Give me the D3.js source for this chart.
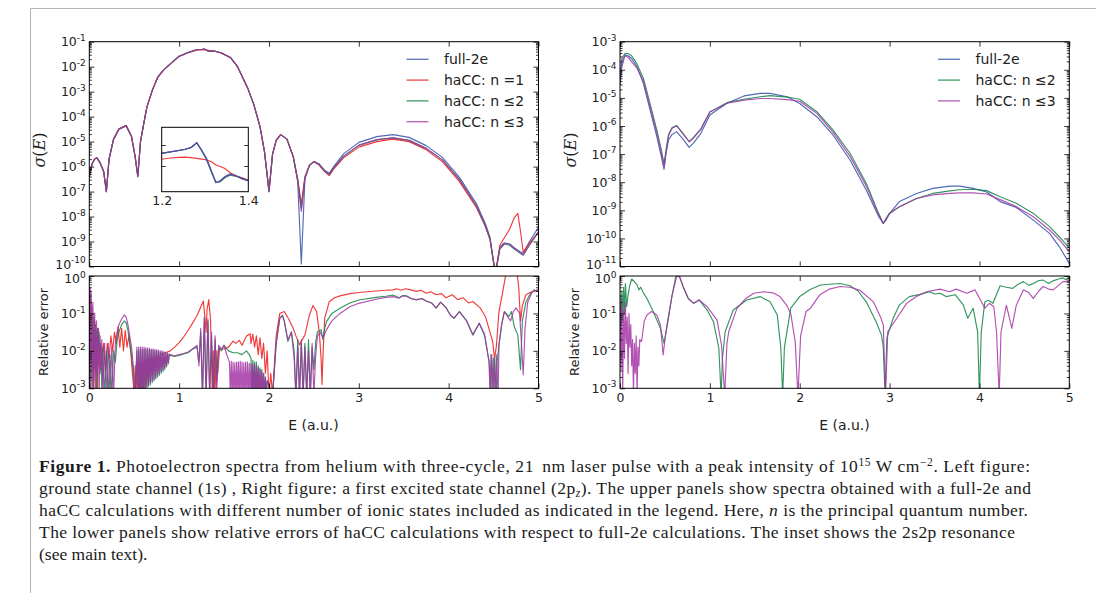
<!DOCTYPE html>
<html>
<head>
<meta charset="utf-8">
<script src="https://cdn.jsdelivr.net/npm/d3@7"></script>
<style>
  body { margin: 0; background: #fff; }
  svg { display: block; }
</style>
</head>
<body>
<svg id="fig" width="1096" height="593"></svg>
<script>
// ---------------------------------------------------------------------------
// Photoelectron spectra of helium: full-2e vs haCC (values are log10 of σ / error)
// ---------------------------------------------------------------------------

// Left upper panel: 1s channel, log10 σ(E) on a shared energy grid
const spec1sE = [0, 0.03, 0.06, 0.085, 0.12, 0.16, 0.19, 0.22, 0.27, 0.33,
  0.41, 0.47, 0.51, 0.54, 0.57, 0.6, 0.64, 0.7, 0.76, 0.83,
  0.9, 1.0, 1.1, 1.2, 1.254, 1.281, 1.304, 1.325, 1.358, 1.4,
  1.47, 1.57, 1.65, 1.76, 1.83, 1.9, 1.95, 2.0, 2.04, 2.08,
  2.13, 2.2, 2.27, 2.32, 2.36, 2.4, 2.45, 2.5, 2.56, 2.62,
  2.67, 2.72, 2.83, 3.0, 3.2, 3.38, 3.56, 3.75, 3.93, 4.12,
  4.31, 4.41, 4.46, 4.52, 4.57, 4.62, 4.68, 4.73, 4.77, 4.8,
  4.83, 4.9, 5.0];
const spec1sFull = [-6.4, -5.9, -5.7, -5.65, -5.85, -6.2, -7.0, -5.7, -4.9, -4.5,
  -4.36, -4.8, -5.6, -6.4, -5.0, -4.4, -3.63, -2.96, -2.43, -2.12,
  -1.9, -1.58, -1.43, -1.319, -1.31, -1.296, -1.333, -1.387, -1.366, -1.382,
  -1.45, -1.63, -2.0, -2.83, -3.5, -4.4, -5.4, -7.0, -5.5, -4.95,
  -4.72, -4.9, -5.6, -6.6, -9.9, -6.5, -5.95, -5.8, -5.9, -6.15,
  -6.27, -6.0, -5.49, -5.03, -4.8, -4.72, -4.83, -5.16, -5.63, -6.43,
  -7.49, -8.3, -8.83, -10.3, -9.23, -9.05, -9.1, -9.25, -9.35, -9.42,
  -9.47, -9.0, -8.43];
const spec1sN1 = [-6.4, -5.9, -5.7, -5.65, -5.85, -6.2, -7.0, -5.7, -4.9, -4.5,
  -4.36, -4.8, -5.6, -6.35, -5.0, -4.4, -3.63, -2.96, -2.43, -2.12,
  -1.9, -1.59, -1.44, -1.332, -1.327, -1.33, -1.333, -1.345, -1.362, -1.38,
  -1.45, -1.63, -2.0, -2.83, -3.5, -4.4, -5.4, -6.95, -5.5, -4.95,
  -4.72, -4.9, -5.6, -6.5, -7.5, -6.4, -5.95, -5.8, -5.95, -6.2,
  -6.36, -6.1, -5.65, -5.22, -5.0, -4.9, -5.0, -5.33, -5.8, -6.6,
  -7.65, -8.4, -8.9, -10.3, -9.15, -8.85, -8.5, -8.05, -7.87, -8.6,
  -9.43, -9.05, -8.62];
const spec1sN2 = [-6.4, -5.9, -5.7, -5.65, -5.85, -6.2, -7.0, -5.7, -4.9, -4.5,
  -4.36, -4.8, -5.6, -6.4, -5.0, -4.4, -3.63, -2.96, -2.43, -2.12,
  -1.9, -1.58, -1.43, -1.319, -1.311, -1.297, -1.33, -1.384, -1.368, -1.382,
  -1.45, -1.63, -2.0, -2.83, -3.5, -4.4, -5.4, -7.0, -5.5, -4.95,
  -4.72, -4.9, -5.6, -6.55, -7.7, -6.45, -5.95, -5.8, -5.92, -6.18,
  -6.32, -6.05, -5.6, -5.15, -4.93, -4.85, -4.95, -5.27, -5.73, -6.52,
  -7.58, -8.4, -8.9, -10.3, -9.3, -9.1, -9.15, -9.3, -9.4, -9.48,
  -9.55, -9.15, -8.62];
const spec1sN3 = [-6.4, -5.9, -5.7, -5.65, -5.85, -6.2, -7.0, -5.7, -4.9, -4.5,
  -4.36, -4.8, -5.6, -6.4, -5.0, -4.4, -3.63, -2.96, -2.43, -2.12,
  -1.9, -1.58, -1.43, -1.318, -1.309, -1.297, -1.332, -1.386, -1.366, -1.382,
  -1.45, -1.63, -2.0, -2.83, -3.5, -4.4, -5.4, -7.0, -5.5, -4.95,
  -4.72, -4.9, -5.6, -6.55, -7.8, -6.45, -5.95, -5.8, -5.92, -6.18,
  -6.32, -6.05, -5.58, -5.14, -4.92, -4.85, -4.95, -5.27, -5.73, -6.52,
  -7.58, -8.4, -8.9, -10.3, -9.28, -9.08, -9.12, -9.28, -9.38, -9.46,
  -9.53, -9.12, -8.6];

// Inset: 2s2p resonance, linear σ
const insetE = [1.2, 1.22, 1.24, 1.254, 1.268, 1.281, 1.293, 1.304, 1.315, 1.325,
  1.335, 1.346, 1.358, 1.373, 1.386, 1.4];
const insetFull = [0.04802, 0.04835, 0.0487, 0.04898, 0.0494, 0.05055, 0.0485, 0.04643, 0.0435, 0.04103,
  0.0415, 0.0425, 0.0431, 0.04262, 0.042, 0.0415];
const insetN1 = [0.0466, 0.0469, 0.04707, 0.0471, 0.047, 0.0468, 0.04665, 0.04643, 0.046, 0.04524,
  0.0449, 0.0444, 0.04341, 0.0426, 0.0422, 0.04167];
const insetN2 = [0.048, 0.04833, 0.04868, 0.04895, 0.0494, 0.0505, 0.0487, 0.0467, 0.0438, 0.0412,
  0.0412, 0.0422, 0.0428, 0.0425, 0.0419, 0.0415];
const insetN3 = [0.04805, 0.04838, 0.04872, 0.049, 0.04943, 0.05052, 0.0486, 0.0465, 0.0436, 0.0411,
  0.0414, 0.0424, 0.043, 0.0426, 0.042, 0.0415];

// Left lower panel: log10 relative error, [E, value] pairs
const err1sN1 = [[0,-0.5],[0.01,-3.2],[0.02,-0.6],[0.03,-2.5],[0.04,-1.0],[0.05,-3.2],[0.06,-1.2],[0.07,-2.6],
  [0.08,-1.5],[0.09,-3.2],[0.1,-1.4],[0.11,-2.4],[0.12,-1.8],[0.14,-2.3],[0.16,-1.8],[0.18,-2.6],[0.2,-1.8],
  [0.22,-2.2],[0.24,-1.6],[0.26,-2.0],[0.28,-1.5],[0.3,-1.8],[0.32,-1.35],[0.34,-1.9],[0.36,-1.4],[0.38,-2.0],
  [0.4,-1.45],[0.42,-1.9],[0.44,-1.6],[0.46,-2.0],[0.48,-2.6],[0.5,-3.2],[0.51,-2.4],[0.52,-3.2],[0.53,-2.35],
  [0.54,-3.2],[0.55,-2.3],[0.56,-3.2],[0.57,-2.3],[0.58,-3.2],[0.59,-2.28],[0.6,-3.1],[0.61,-2.26],[0.62,-3.0],
  [0.63,-2.24],[0.64,-2.9],[0.65,-2.22],[0.66,-2.8],[0.67,-2.2],[0.68,-2.7],[0.69,-2.18],[0.7,-2.6],[0.71,-2.16],
  [0.72,-2.5],[0.73,-2.15],[0.74,-2.42],[0.75,-2.13],[0.76,-2.35],[0.77,-2.12],[0.78,-2.28],[0.8,-2.1],
  [0.85,-2.05],[0.9,-2.0],[0.95,-1.9],[1.0,-1.78],[1.05,-1.63],[1.1,-1.45],
  [1.16,-1.22],[1.2,-1.05],[1.25,-0.78],[1.27,-0.67],[1.29,-1.2],[1.3,-1.5],[1.31,-0.9],[1.33,-0.63],[1.35,-1.2],
  [1.37,-3.2],[1.38,-2.0],[1.39,-3.2],[1.4,-2.1],[1.41,-3.2],[1.42,-2.0],[1.43,-2.6],[1.45,-1.95],[1.5,-1.95],
  [1.55,-1.9],[1.6,-1.74],[1.63,-1.8],[1.67,-1.72],[1.7,-1.85],[1.75,-1.6],[1.79,-1.54],[1.8,-1.8],[1.82,-1.55],
  [1.84,-1.9],[1.86,-1.6],[1.88,-2.1],[1.9,-1.65],[1.92,-2.2],[1.94,-1.8],[1.96,-2.6],[1.98,-2.0],[2.0,-3.2],
  [2.02,-2.6],[2.04,-3.2],[2.08,-1.6],[2.12,-1.0],[2.17,-0.95],[2.22,-1.15],[2.27,-1.4],[2.3,-1.6],[2.34,-1.84],
  [2.37,-1.7],[2.4,-1.58],[2.45,-1.04],[2.49,-0.79],[2.53,-0.95],[2.56,-1.5],[2.58,-2.2],[2.59,-2.9],[2.6,-2.2],
  [2.62,-1.13],[2.67,-0.69],[2.73,-0.58],[2.79,-0.53],[2.9,-0.47],[3.0,-0.44],[3.19,-0.4],[3.3,-0.38],[3.38,-0.37],
  [3.42,-0.34],[3.47,-0.38],[3.52,-0.34],[3.58,-0.37],[3.64,-0.41],[3.69,-0.38],[3.75,-0.46],[3.8,-0.42],
  [3.86,-0.5],[3.92,-0.47],[3.97,-0.58],[4.04,-0.5],[4.1,-0.63],[4.16,-0.58],[4.22,-0.72],[4.27,-0.68],
  [4.35,-0.85],[4.41,-1.09],[4.46,-1.5],[4.49,-1.75],[4.51,-2.2],[4.53,-1.9],[4.56,-0.95],[4.6,-0.45],
  [4.64,0.1],[4.76,0.1],[4.78,-0.3],[4.8,-1.2],[4.82,-0.8],[4.86,-0.5],[4.9,-0.45],[4.95,-0.4],[5.0,-0.37]];
const err1sN2 = [[0,-0.4],[0.005,-3.2],[0.01,-0.5],[0.02,-2.8],[0.03,-0.8],[0.04,-3.2],[0.05,-1.1],[0.06,-2.5],
  [0.07,-1.3],[0.08,-3.2],[0.09,-1.4],[0.1,-2.0],[0.11,-1.5],[0.12,-2.6],[0.13,-1.8],[0.14,-3.2],[0.15,-1.9],
  [0.17,-3.2],[0.19,-2.0],[0.21,-3.2],[0.23,-2.1],[0.25,-3.2],[0.27,-2.0],[0.29,-2.3],[0.31,-1.7],[0.33,-1.5],
  [0.36,-1.3],[0.39,-1.2],[0.41,-1.25],[0.43,-1.45],[0.45,-1.8],[0.47,-2.1],[0.49,-2.6],[0.51,-3.2],
  [0.53,-2.0],[0.54,-3.2],[0.55,-1.97],[0.56,-3.2],[0.57,-1.96],[0.58,-3.2],[0.59,-1.96],[0.6,-3.2],[0.61,-1.96],
  [0.62,-3.05],[0.63,-1.96],[0.64,-3.0],[0.65,-1.97],[0.66,-2.95],[0.67,-1.97],[0.68,-2.9],[0.69,-1.98],[0.7,-2.85],
  [0.71,-1.98],[0.72,-2.8],[0.73,-2.0],[0.74,-2.75],[0.75,-2.0],[0.76,-2.7],[0.77,-2.02],[0.78,-2.65],[0.79,-2.03],
  [0.8,-2.6],[0.81,-2.04],[0.82,-2.55],[0.83,-2.05],[0.84,-2.5],[0.85,-2.06],[0.86,-2.42],[0.87,-2.08],[0.88,-2.35],
  [0.89,-2.1],[0.9,-2.12],
  [0.95,-2.15],[1.0,-2.12],[1.05,-2.08],[1.1,-2.05],[1.15,-1.95],[1.2,-1.9],[1.22,-2.3],[1.24,-1.5],[1.26,-3.2],
  [1.28,-1.15],[1.3,-3.2],[1.32,-1.2],[1.34,-3.2],[1.36,-1.6],[1.38,-3.2],[1.4,-1.7],[1.42,-2.8],[1.44,-1.9],
  [1.47,-2.0],[1.5,-1.85],[1.55,-2.0],[1.6,-2.05],[1.65,-2.05],[1.7,-2.1],[1.75,-2.0],[1.78,-2.1],[1.8,-2.2],
  [1.81,-3.2],[1.82,-2.25],[1.83,-3.2],[1.84,-2.3],[1.85,-3.2],[1.86,-2.3],[1.87,-3.2],[1.88,-2.4],[1.89,-3.2],
  [1.9,-2.45],[1.91,-3.2],[1.92,-2.5],[1.93,-3.2],[1.94,-2.6],[1.95,-3.2],[1.96,-2.7],[1.97,-3.2],[1.98,-2.8],
  [2.04,-3.2],[2.08,-1.8],[2.12,-1.13],[2.15,-1.05],[2.17,-1.2],[2.21,-1.75],[2.25,-1.49],[2.28,-2.0],[2.3,-3.2],
  [2.32,-1.7],[2.34,-3.2],[2.36,-1.8],[2.38,-3.2],[2.4,-1.8],[2.42,-3.2],[2.44,-1.7],[2.46,-3.2],[2.48,-1.9],
  [2.5,-2.5],[2.52,-1.75],[2.54,-1.49],[2.58,-1.44],[2.6,-1.7],[2.62,-1.4],[2.64,-1.22],[2.7,-1.0],[2.79,-0.86],
  [2.9,-0.72],[3.0,-0.64],[3.19,-0.57],[3.3,-0.54],[3.38,-0.51],[3.45,-0.58],[3.49,-0.52],[3.53,-0.53],
  [3.58,-0.6],[3.64,-0.64],[3.7,-0.6],[3.75,-0.67],[3.81,-0.72],[3.86,-0.86],[3.91,-0.7],[3.97,-0.85],
  [4.02,-1.05],[4.06,-1.13],[4.12,-0.95],[4.2,-1.2],[4.27,-1.58],[4.34,-1.26],[4.4,-1.6],[4.45,-2.29],
  [4.47,-3.2],[4.48,-2.1],[4.5,-3.2],[4.51,-2.2],[4.53,-3.2],[4.54,-2.3],[4.56,-1.84],[4.59,-1.3],[4.62,-0.95],
  [4.67,-1.08],[4.7,-0.95],[4.73,-1.35],[4.77,-1.58],[4.79,-2.2],[4.8,-2.5],[4.82,-1.2],[4.86,-0.7],[4.9,-0.51],
  [4.95,-0.37],[5.0,-0.42]];
const err1sN3 = [[0,-0.3],[0.005,-3.2],[0.01,-0.3],[0.015,-2.5],[0.02,-0.4],[0.03,-3.2],[0.04,-0.7],[0.05,-2.8],
  [0.06,-1.0],[0.07,-3.2],[0.08,-1.2],[0.09,-2.6],[0.1,-1.4],[0.11,-3.2],[0.12,-1.6],[0.13,-2.5],[0.14,-1.7],
  [0.15,-3.2],[0.17,-1.8],[0.19,-3.2],[0.21,-1.8],[0.23,-3.2],[0.25,-1.9],[0.27,-3.2],[0.29,-1.8],[0.31,-1.5],
  [0.33,-1.3],[0.36,-1.15],[0.39,-1.04],[0.41,-1.1],[0.43,-1.3],[0.45,-1.6],[0.47,-1.9],[0.49,-2.4],[0.51,-3.2],
  [0.53,-1.9],[0.54,-3.2],[0.55,-1.9],[0.56,-3.2],[0.57,-1.9],[0.58,-3.2],[0.59,-1.9],[0.6,-3.1],[0.61,-1.9],
  [0.62,-3.0],[0.63,-1.92],[0.64,-2.95],[0.65,-1.92],[0.66,-2.9],[0.67,-1.93],[0.68,-2.85],[0.69,-1.95],[0.7,-2.8],
  [0.71,-1.95],[0.72,-2.75],[0.73,-1.96],[0.74,-2.7],[0.75,-1.97],[0.76,-2.65],[0.77,-1.98],[0.78,-2.6],[0.79,-2.0],
  [0.8,-2.55],[0.81,-2.0],[0.82,-2.5],[0.83,-2.02],[0.84,-2.45],[0.85,-2.03],[0.86,-2.4],[0.87,-2.05],[0.88,-2.3],
  [0.89,-2.08],[0.9,-2.1],
  [0.95,-2.13],[1.0,-2.1],[1.05,-2.07],[1.1,-2.03],[1.15,-1.95],[1.2,-1.85],[1.22,-2.4],[1.24,-1.4],
  [1.26,-3.2],[1.28,-1.1],[1.3,-3.2],[1.32,-1.15],[1.34,-3.2],[1.36,-1.5],[1.38,-3.2],[1.4,-1.6],[1.42,-3.0],
  [1.44,-1.85],[1.47,-1.95],[1.5,-1.85],[1.53,-2.1],
  [1.56,-2.3],[1.57,-3.2],[1.58,-2.28],[1.59,-3.2],[1.6,-2.3],[1.61,-3.2],[1.62,-2.32],[1.63,-3.2],[1.64,-2.3],
  [1.65,-3.2],[1.66,-2.3],[1.67,-3.2],[1.68,-2.28],[1.69,-3.2],[1.7,-2.3],[1.71,-3.2],[1.72,-2.32],[1.73,-3.2],
  [1.74,-2.3],[1.75,-3.2],[1.76,-2.3],[1.77,-3.2],[1.78,-2.33],[1.79,-3.2],[1.8,-2.35],[1.81,-3.2],[1.82,-2.35],
  [1.83,-3.2],[1.84,-2.38],[1.85,-3.2],[1.86,-2.4],[1.87,-3.2],[1.88,-2.45],[1.89,-3.2],[1.9,-2.5],[1.91,-3.2],
  [1.92,-2.55],[1.93,-3.2],[1.94,-2.6],[1.95,-3.2],[1.96,-2.7],[1.97,-3.2],[1.98,-2.8],[2.04,-3.2],
  [2.08,-1.8],[2.12,-1.13],[2.15,-1.05],[2.17,-1.2],[2.21,-1.7],[2.25,-1.5],[2.28,-2.2],[2.3,-3.2],[2.32,-1.9],
  [2.34,-3.2],[2.36,-1.7],[2.38,-3.2],[2.4,-1.9],[2.42,-3.2],[2.44,-2.0],[2.46,-3.2],[2.48,-1.8],[2.5,-3.2],
  [2.52,-2.1],[2.54,-1.6],[2.57,-1.5],[2.6,-1.65],[2.64,-1.44],[2.7,-1.2],[2.79,-1.0],[2.9,-0.82],[3.0,-0.73],
  [3.19,-0.62],[3.3,-0.57],[3.38,-0.55],[3.45,-0.59],[3.49,-0.53],[3.53,-0.54],[3.58,-0.6],[3.64,-0.63],
  [3.7,-0.6],[3.75,-0.67],[3.81,-0.72],[3.86,-0.85],[3.91,-0.7],[3.97,-0.84],[4.02,-1.05],[4.06,-1.12],
  [4.12,-0.95],[4.2,-1.2],[4.27,-1.56],[4.34,-1.26],[4.4,-1.55],[4.45,-2.3],[4.46,-3.2],[4.47,-2.1],[4.49,-3.2],
  [4.5,-2.2],[4.52,-3.2],[4.53,-2.1],[4.55,-3.2],[4.56,-1.84],[4.59,-1.3],[4.62,-0.95],[4.66,-1.1],[4.69,-1.2],
  [4.72,-0.95],[4.75,-0.85],[4.79,-1.0],[4.81,-1.8],[4.83,-2.64],[4.85,-1.4],[4.88,-0.7],[4.93,-0.42],[5.0,-0.37]];

// Right upper panel: 2pz channel, log10 σ(E)
const spec2pE = [0, 0.02, 0.056, 0.09, 0.13, 0.19, 0.26, 0.33, 0.41, 0.46,
  0.49, 0.51, 0.54, 0.58, 0.63, 0.71, 0.77, 0.82, 0.9, 1.0,
  1.19, 1.38, 1.56, 1.67, 1.86, 2.0, 2.19, 2.37, 2.56, 2.74,
  2.87, 2.93, 2.96, 3.0, 3.11, 3.3, 3.48, 3.67, 3.78, 3.93,
  4.08, 4.23, 4.41, 4.6, 4.78, 4.89, 5.0];
const spec2pFull = [-4.54, -3.9, -3.47, -3.5, -3.6, -3.89, -4.48, -5.37, -6.38, -7.09,
  -7.54, -7.0, -6.5, -6.3, -6.2, -6.5, -6.76, -6.6, -6.26, -5.61,
  -5.19, -4.93, -4.84, -4.84, -4.96, -5.2, -5.67, -6.32, -7.21, -8.28,
  -9.17, -9.47, -9.35, -9.11, -8.69, -8.4, -8.22, -8.14, -8.14, -8.22,
  -8.35, -8.69, -8.9, -9.35, -9.82, -10.3, -10.89];
const spec2pN2 = [-4.3, -3.6, -3.42, -3.42, -3.5, -3.8, -4.3, -5.15, -6.15, -6.85,
  -7.35, -6.9, -6.3, -6.05, -5.98, -6.3, -6.56, -6.4, -6.1, -5.5,
  -5.17, -5.05, -4.96, -4.92, -4.97, -5.05, -5.49, -6.14, -6.97, -8.04,
  -9.05, -9.47, -9.3, -9.1, -8.87, -8.58, -8.4, -8.31, -8.27, -8.25,
  -8.3, -8.52, -8.75, -9.11, -9.58, -9.95, -10.35];
const spec2pN3 = [-4.4, -3.7, -3.5, -3.55, -3.72, -3.95, -4.4, -5.25, -6.25, -6.95,
  -7.45, -7.0, -6.35, -6.08, -6.0, -6.32, -6.56, -6.42, -6.12, -5.5,
  -5.19, -5.08, -5.02, -5.02, -5.06, -5.12, -5.55, -6.22, -7.08, -8.13,
  -9.1, -9.47, -9.3, -9.12, -8.87, -8.58, -8.45, -8.4, -8.38, -8.38,
  -8.42, -8.62, -8.87, -9.23, -9.7, -10.05, -10.47];

// Right lower panel: log10 relative error, [E, value] pairs
const err2pN2 = [[0,-0.5],[0.01,-1.3],[0.02,-0.4],[0.03,-1.2],[0.04,-0.3],[0.05,-1.0],[0.06,-0.2],[0.074,-0.82],
  [0.09,-0.5],[0.11,-0.24],[0.13,-0.08],[0.16,-0.15],[0.19,-0.24],[0.21,-0.37],[0.23,-0.3],[0.26,-0.45],[0.3,-0.6],
  [0.37,-0.95],[0.45,-1.4],[0.49,-1.8],[0.53,-1.26],[0.58,-0.51],[0.62,-0.02],[0.66,0],[0.71,-0.33],[0.76,-0.6],
  [0.82,-0.73],[0.88,-0.64],[0.97,-0.91],[1.04,-1.22],[1.1,-1.93],[1.125,-3.2],[1.14,-2.2],[1.17,-1.49],
  [1.26,-0.91],[1.41,-0.64],[1.56,-0.55],[1.67,-0.69],[1.75,-1.04],[1.79,-1.93],[1.81,-3.2],[1.83,-1.9],
  [1.9,-0.86],[2.0,-0.55],[2.11,-0.37],[2.23,-0.24],[2.33,-0.22],[2.45,-0.2],[2.56,-0.26],[2.65,-0.4],
  [2.74,-0.69],[2.85,-1.22],[2.91,-1.58],[2.93,-1.9],[2.95,-3.2],[2.97,-1.65],[3.04,-1.13],[3.11,-0.77],
  [3.22,-0.55],[3.34,-0.49],[3.45,-0.42],[3.5,-0.48],[3.56,-0.46],[3.63,-0.55],[3.73,-0.5],[3.82,-0.77],
  [3.87,-1.13],[3.93,-0.86],[3.98,-1.5],[4.0,-3.2],[4.02,-1.5],[4.06,-0.69],[4.1,-0.65],[4.15,-0.73],
  [4.23,-0.26],[4.3,-0.3],[4.37,-0.33],[4.43,-0.22],[4.49,-0.15],[4.55,-0.25],[4.6,-0.2],[4.66,-0.12],
  [4.71,-0.11],[4.77,-0.2],[4.82,-0.13],[4.88,-0.08],[4.93,-0.05],[4.96,-0.1],[5.0,-0.04]];
const err2pN3 = [[0,-0.8],[0.01,-2.5],[0.02,-0.6],[0.03,-3.2],[0.04,-0.9],[0.05,-2.2],[0.06,-0.7],[0.07,-1.8],
  [0.08,-1.1],[0.09,-2.6],[0.1,-1.0],[0.11,-1.9],[0.12,-1.3],[0.13,-2.4],[0.14,-1.7],[0.15,-3.2],[0.16,-1.8],
  [0.17,-2.6],[0.18,-1.6],[0.19,-3.2],[0.2,-1.9],[0.21,-2.4],[0.22,-1.7],[0.24,-1.75],[0.27,-1.2],[0.3,-1.04],
  [0.35,-0.95],[0.41,-1.04],[0.45,-1.31],[0.48,-2.11],[0.5,-1.7],[0.53,-1.2],[0.58,-0.51],[0.63,-0.02],[0.66,0],
  [0.71,-0.33],[0.76,-0.6],[0.82,-0.73],[0.88,-0.64],[0.97,-0.82],[1.08,-1.18],[1.13,-1.85],[1.165,-3.2],
  [1.19,-1.8],[1.21,-1.49],[1.3,-0.87],[1.4,-0.6],[1.49,-0.46],[1.6,-0.42],[1.7,-0.45],[1.78,-0.55],[1.86,-0.8],
  [1.9,-1.0],[1.95,-1.76],[1.98,-3.2],[2.01,-1.6],[2.07,-0.95],[2.12,-0.86],[2.22,-0.51],[2.33,-0.35],
  [2.45,-0.28],[2.56,-0.3],[2.67,-0.38],[2.82,-0.69],[2.9,-1.1],[2.93,-1.31],[2.955,-3.2],[2.98,-1.49],
  [3.08,-1.13],[3.19,-0.73],[3.3,-0.55],[3.41,-0.42],[3.56,-0.35],[3.67,-0.42],[3.74,-0.35],[3.86,-0.46],
  [3.95,-0.37],[4.06,-0.86],[4.11,-0.73],[4.16,-0.82],[4.19,-1.49],[4.22,-3.2],[4.24,-1.49],[4.3,-0.78],
  [4.36,-1.4],[4.41,-0.78],[4.49,-0.37],[4.55,-0.45],[4.6,-0.6],[4.66,-0.4],[4.71,-0.28],[4.77,-0.35],
  [4.82,-0.37],[4.88,-0.25],[4.93,-0.15],[5.0,-0.15]];

// Axis tick values
const energyTicks = [0, 1, 2, 3, 4, 5];
const insetTicksX = [1.2, 1.4];
const insetTicksY = [0.045, 0.05];

// Legend entries
const legend1s = ["full-2e", "haCC: n =1", "haCC: n \u22642", "haCC: n \u22643"];
const legend2p = ["full-2e", "haCC: n \u22642", "haCC: n \u22643"];

// ---------------------------------------------------------------------------
const COL = { full: "#3150a8", n1: "#f01818", n2: "#0f8443", n3: "#a534a5" };
const svg = d3.select("#fig");
const SANS = "DejaVu Sans, Verdana, sans-serif";

// light frame around the figure block
svg.append("line").attr("x1", 30.5).attr("x2", 1096).attr("y1", 8.5).attr("y2", 8.5)
  .attr("stroke", "#b4b4b4").attr("stroke-width", 1);
svg.append("line").attr("x1", 30.5).attr("x2", 30.5).attr("y1", 8.5).attr("y2", 593)
  .attr("stroke", "#b4b4b4").attr("stroke-width", 1);

let clipCount = 0;

function decades(lo, hi) {
  const major = d3.range(lo, hi + 1).map(e => Math.pow(10, e));
  const minor = [];
  for (let e = lo; e < hi; e++) for (let k = 2; k <= 9; k++) minor.push(k * Math.pow(10, e));
  return { major, minor };
}

// "10" with a raised exponent; the extreme labels get a small vertical nudge
function powLabels(sel, lo, hi, nudgeLo, nudgeHi) {
  sel.selectAll(".tick text").each(function (d) {
    const e = Math.round(Math.log10(d));
    const t = d3.select(this);
    t.text(null);
    t.append("tspan").text("10");
    t.append("tspan").attr("dy", "-0.6em").attr("font-size", "9px").text(String(e));
    if (e === lo && nudgeLo) t.attr("y", nudgeLo);
    if (e === hi && nudgeHi) t.attr("y", nudgeHi);
  });
}

// One log-scale panel sharing the energy axis 0..5
function panel(o) {
  const x = d3.scaleLinear().domain([0, 5]).range([o.left, o.right]);
  const y = d3.scaleLog().domain([Math.pow(10, o.lo), Math.pow(10, o.hi)]).range([o.bottom, o.top]);
  const g = svg.append("g");
  const id = "clip" + (clipCount++);
  g.append("clipPath").attr("id", id).append("rect")
    .attr("x", o.left).attr("y", o.top).attr("width", o.right - o.left).attr("height", o.bottom - o.top);
  const plot = g.append("g").attr("clip-path", `url(#${id})`);
  const axes = g.append("g");
  const { major, minor } = decades(o.lo, o.hi);

  const style = a => a.call(s => s.select(".domain").remove())
    .call(s => s.selectAll("line").attr("stroke", "#000").attr("stroke-width", 0.8))
    .call(s => s.selectAll("text").attr("font-family", SANS).attr("font-size", "12.5px").attr("fill", "#222"));

  axes.append("g").attr("transform", `translate(0,${o.bottom})`)
    .call(d3.axisBottom(x).tickValues(energyTicks).tickSize(-5).tickPadding(5)
      .tickFormat(o.xLabels ? d3.format("d") : ""))
    .call(style);
  axes.append("g").attr("transform", `translate(0,${o.top})`)
    .call(d3.axisTop(x).tickValues(energyTicks).tickSize(-5).tickFormat("")).call(style);
  axes.append("g").attr("transform", `translate(${o.left},0)`)
    .call(d3.axisLeft(y).tickValues(major).tickSize(-5).tickPadding(3.5)).call(style)
    .call(s => powLabels(s, o.lo, o.hi, o.nudgeLo, o.nudgeHi));
  axes.append("g").attr("transform", `translate(${o.left},0)`)
    .call(d3.axisLeft(y).tickValues(minor).tickSize(-2.5).tickFormat("")).call(style);
  axes.append("g").attr("transform", `translate(${o.right},0)`)
    .call(d3.axisRight(y).tickValues(major).tickSize(-5).tickFormat("")).call(style);
  axes.append("g").attr("transform", `translate(${o.right},0)`)
    .call(d3.axisRight(y).tickValues(minor).tickSize(-2.5).tickFormat("")).call(style);
  axes.append("rect").attr("x", o.left).attr("y", o.top)
    .attr("width", o.right - o.left).attr("height", o.bottom - o.top)
    .attr("fill", "none").attr("stroke", "#000").attr("stroke-width", 1);

  const line = d3.line().x(d => x(d[0])).y(d => y(Math.pow(10, d[1])));
  function curve(pts, color) {
    plot.append("path").datum(pts).attr("d", line).attr("fill", "none")
      .attr("stroke", color).attr("stroke-width", 1.15).attr("stroke-opacity", 0.85)
      .attr("stroke-linejoin", "round");
  }
  return { x, y, g, plot, curve, axes };
}

const zip = (xs, ys) => xs.map((v, i) => [v, ys[i]]);

function yTitleSigma(cx, cy) {
  const t = svg.append("text").attr("transform", `translate(${cx},${cy}) rotate(-90)`)
    .attr("text-anchor", "middle").attr("font-family", "DejaVu Serif, serif")
    .attr("font-size", "16px").attr("fill", "#222");
  t.append("tspan").attr("font-style", "italic").text("\u03c3");
  t.append("tspan").text("(");
  t.append("tspan").attr("font-style", "italic").text("E");
  t.append("tspan").text(")");
}
function yTitleErr(cx, cy) {
  svg.append("text").attr("transform", `translate(${cx},${cy}) rotate(-90)`)
    .attr("text-anchor", "middle").attr("font-family", SANS).attr("font-size", "13px")
    .attr("fill", "#222").text("Relative error");
}
function xTitle(cx, cy) {
  svg.append("text").attr("x", cx).attr("y", cy).attr("text-anchor", "middle")
    .attr("font-family", SANS).attr("font-size", "14px").attr("fill", "#222").text("E (a.u.)");
}
function legend(x0, y0, labels, colors) {
  const g = svg.append("g");
  labels.forEach((lab, i) => {
    const yy = y0 + i * 20.8;
    g.append("line").attr("x1", x0).attr("x2", x0 + 22).attr("y1", yy).attr("y2", yy)
      .attr("stroke", colors[i]).attr("stroke-width", 1.3).attr("stroke-opacity", 0.8);
    g.append("text").attr("x", x0 + 37.5).attr("y", yy + 5).attr("font-family", SANS)
      .attr("font-size", "14px").attr("fill", "#222").text(lab);
  });
}

// ---- left column: 1s channel ----
const L = { left: 89.3, right: 538.5 };
const pTL = panel({ ...L, top: 41.7, bottom: 266.5, lo: -10, hi: -1, xLabels: false, nudgeLo: -2.5 });
pTL.curve(zip(spec1sE, spec1sFull), COL.full);
pTL.curve(zip(spec1sE, spec1sN1), COL.n1);
pTL.curve(zip(spec1sE, spec1sN2), COL.n2);
pTL.curve(zip(spec1sE, spec1sN3), COL.n3);
legend(406.5, 59.3, legend1s, [COL.full, COL.n1, COL.n2, COL.n3]);

// inset with the 2s2p resonance
(function inset() {
  const box = { left: 161.7, right: 248.3, top: 127.3, bottom: 191.7 };
  const x = d3.scaleLinear().domain([1.2, 1.4]).range([box.left, box.right]);
  const step = (166 - 145) / 0.005;
  const y = d3.scaleLinear()
    .domain([0.045 - (box.bottom - 166) / step, 0.045 + (166 - box.top) / step])
    .range([box.bottom, box.top]);
  const g = svg.append("g");
  g.append("rect").attr("x", box.left).attr("y", box.top).attr("width", box.right - box.left)
    .attr("height", box.bottom - box.top).attr("fill", "#fff");
  g.append("clipPath").attr("id", "insetClip").append("rect").attr("x", box.left).attr("y", box.top)
    .attr("width", box.right - box.left).attr("height", box.bottom - box.top);
  const plot = g.append("g").attr("clip-path", "url(#insetClip)");
  const line = d3.line().x(d => x(d[0])).y(d => y(d[1]));
  [[insetN1, COL.n1], [insetN2, COL.n2], [insetN3, COL.n3], [insetFull, COL.full]].forEach(([vals, c]) => {
    plot.append("path").datum(zip(insetE, vals)).attr("d", line).attr("fill", "none")
      .attr("stroke", c).attr("stroke-width", 1.15).attr("stroke-opacity", 0.85);
  });
  const st = s => s.call(a => a.select(".domain").remove())
    .call(a => a.selectAll("line").attr("stroke", "#000").attr("stroke-width", 0.8))
    .call(a => a.selectAll("text").attr("font-family", SANS).attr("font-size", "12.5px").attr("fill", "#222"));
  g.append("g").attr("transform", `translate(0,${box.bottom})`)
    .call(d3.axisBottom(x).tickValues(insetTicksX).tickSize(0).tickPadding(4).tickFormat(d3.format(".1f"))).call(st);
  g.append("g").attr("transform", `translate(${box.left},0)`)
    .call(d3.axisLeft(y).tickValues(insetTicksY).tickSize(-4).tickFormat("")).call(st);
  g.append("g").attr("transform", `translate(${box.right},0)`)
    .call(d3.axisRight(y).tickValues(insetTicksY).tickSize(-4).tickFormat("")).call(st);
  g.append("rect").attr("x", box.left).attr("y", box.top).attr("width", box.right - box.left)
    .attr("height", box.bottom - box.top).attr("fill", "none").attr("stroke", "#000").attr("stroke-width", 1);
})();

const pBL = panel({ ...L, top: 276, bottom: 388.3, lo: -3, hi: 0, xLabels: true, nudgeHi: 2.5 });
pBL.curve(err1sN1, COL.n1);
pBL.curve(err1sN2, COL.n2);
pBL.curve(err1sN3, COL.n3);

yTitleSigma(45, 150);
yTitleErr(48, 332);
xTitle(313.5, 430);

// ---- right column: 2pz channel ----
const R = { left: 620, right: 1069.3 };
const pTR = panel({ ...R, top: 41.7, bottom: 266.5, lo: -11, hi: -3, xLabels: false, nudgeLo: -2.5 });
pTR.curve(zip(spec2pE, spec2pFull), COL.full);
pTR.curve(zip(spec2pE, spec2pN2), COL.n2);
pTR.curve(zip(spec2pE, spec2pN3), COL.n3);
legend(938, 59.3, legend2p, [COL.full, COL.n2, COL.n3]);

const pBR = panel({ ...R, top: 276, bottom: 388.3, lo: -3, hi: 0, xLabels: true, nudgeHi: 2.5 });
pBR.curve(err2pN2, COL.n2);
pBR.curve(err2pN3, COL.n3);

yTitleSigma(576, 150);
yTitleErr(579, 332);
xTitle(844.5, 430);

// ---- caption ----
(function caption() {
  const serif = "Liberation Serif, Times New Roman, serif";
  const x0 = 39, lh = 22, y0 = 472;
  const lines = [
    { w: 991, parts: [["Figure 1.", { "font-weight": "bold" }], [" Photoelectron spectra from helium with three-cycle, 21\u2009\u2009nm laser pulse with a peak intensity of 10"],
      ["15", { sup: true }], [" W cm"], ["\u22122", { sup: true }], [". Left figure:"]] },
    { w: 992, parts: [["ground state channel (1s) , Right figure: a first excited state channel (2p"], ["z", { sub: true }],
      ["). The upper panels show spectra obtained with a full-2e and"]] },
    { w: 989, parts: [["haCC calculations with different number of ionic states included as indicated in the legend. Here, "],
      ["n", { "font-style": "italic" }], [" is the principal quantum number."]] },
    { w: 976, parts: [["The lower panels show relative errors of haCC calculations with respect to full-2e calculations. The inset shows the 2s2p resonance"]] },
    { w: null, parts: [["(see main text)."]] }
  ];
  lines.forEach((ln, i) => {
    const t = svg.append("text").attr("x", x0).attr("y", y0 + i * lh)
      .attr("font-family", serif).attr("font-size", "17.5px").attr("fill", "#1a1a1a");
    if (ln.w) t.attr("textLength", ln.w).attr("lengthAdjust", "spacing");
    ln.parts.forEach(([s, a]) => {
      const sp = t.append("tspan").text(s);
      if (!a) return;
      if (a.sup) { sp.attr("font-size", "11.5px").attr("dy", "-6"); sp.attr("data-reset", "6"); }
      else if (a.sub) { sp.attr("font-size", "11.5px").attr("font-style", "italic").attr("dy", "3"); sp.attr("data-reset", "-3"); }
      else Object.entries(a).forEach(([k, v]) => sp.attr(k, v));
    });
    // restore the baseline after raised/lowered pieces
    t.selectAll("tspan").each(function () {
      const r = this.getAttribute("data-reset");
      if (r && this.nextSibling) d3.select(this.nextSibling).attr("dy", r);
    });
  });
})();
</script>
</body>
</html>
